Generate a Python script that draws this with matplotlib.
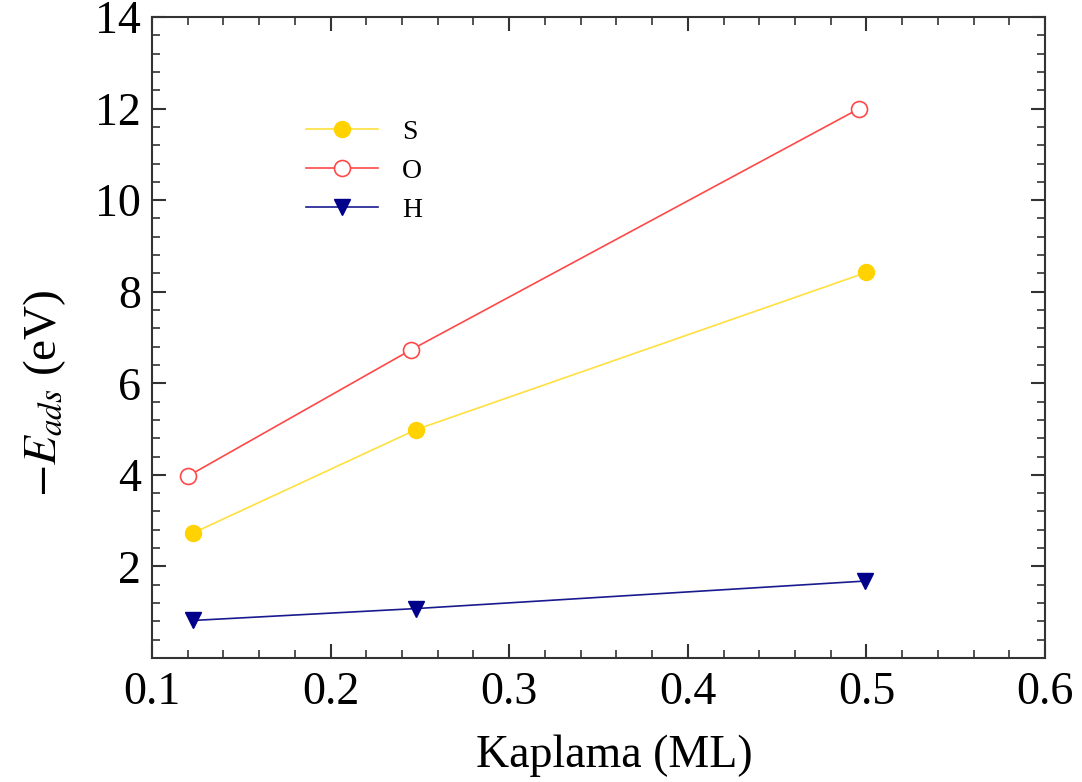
import matplotlib.pyplot as plt
from matplotlib.ticker import MultipleLocator

# adsorption energies vs coverage
s_cov = [0.123, 0.248, 0.500]
s_e = [2.73, 4.99, 8.42]
o_cov = [0.120, 0.245, 0.496]
o_e = [3.97, 6.73, 12.0]
h_cov = [0.123, 0.248, 0.499]
h_e = [0.82, 1.08, 1.68]

plt.rcParams['font.family'] = ['Liberation Serif', 'DejaVu Serif']
plt.rcParams['mathtext.fontset'] = 'stix'

fig = plt.figure(figsize=(10.82, 7.82), dpi=100)
ax = fig.add_axes([152/1082, 1-658/782, (1045-152)/1082, (658-17)/782])

ax.plot(s_cov, s_e, color='#ffe040', lw=1.2, marker='o', ms=11.5,
        mfc='#ffd200', mec='#ffd200', label='S')
ax.plot(o_cov, o_e, color='#ff4848', lw=1.2, marker='o', ms=11.5,
        mfc='white', mec='#ff4848', mew=1.2, label='O')
ax.plot(h_cov, h_e, color='#1a1a90', lw=1.2, marker='v', ms=12,
        mfc='#00008b', mec='#00008b', label='H')

ax.set_xlim(0.1, 0.6)
ax.set_ylim(0, 14)
ax.xaxis.set_minor_locator(MultipleLocator(0.02))
ax.yaxis.set_minor_locator(MultipleLocator(0.4))
ax.set_yticks([2, 4, 6, 8, 10, 12, 14])
ax.set_xticks([0.1, 0.2, 0.3, 0.4, 0.5, 0.6])
ax.set_xticklabels(['0.1', '0.2', '0.3', '0.4', '0.5', '0.6'])
ax.tick_params(which='both', direction='in', top=True, right=True,
               labelsize=33, color='#333333')
ax.tick_params(which='major', length=10, width=1.5)
ax.tick_params(which='minor', length=6, width=1.2)
ax.tick_params(axis='x', pad=10)
ax.tick_params(axis='y', pad=8)
for sp in ax.spines.values():
    sp.set_linewidth(1.5)
    sp.set_color('#333333')

ax.set_xlabel('Kaplama (ML)', fontsize=33)
ax.xaxis.set_label_coords(0.518, -0.12)
ax.set_ylabel(r'$-E_{ads}$ (eV)', fontsize=34)
ax.yaxis.set_label_coords(-0.094, 0.413)

ax.legend(loc='upper left', bbox_to_anchor=(0.1445, 0.879), frameon=False,
          fontsize=20, handlelength=2.6, handletextpad=0.86, labelspacing=0.48)

fig.savefig('out.png', dpi=100)
